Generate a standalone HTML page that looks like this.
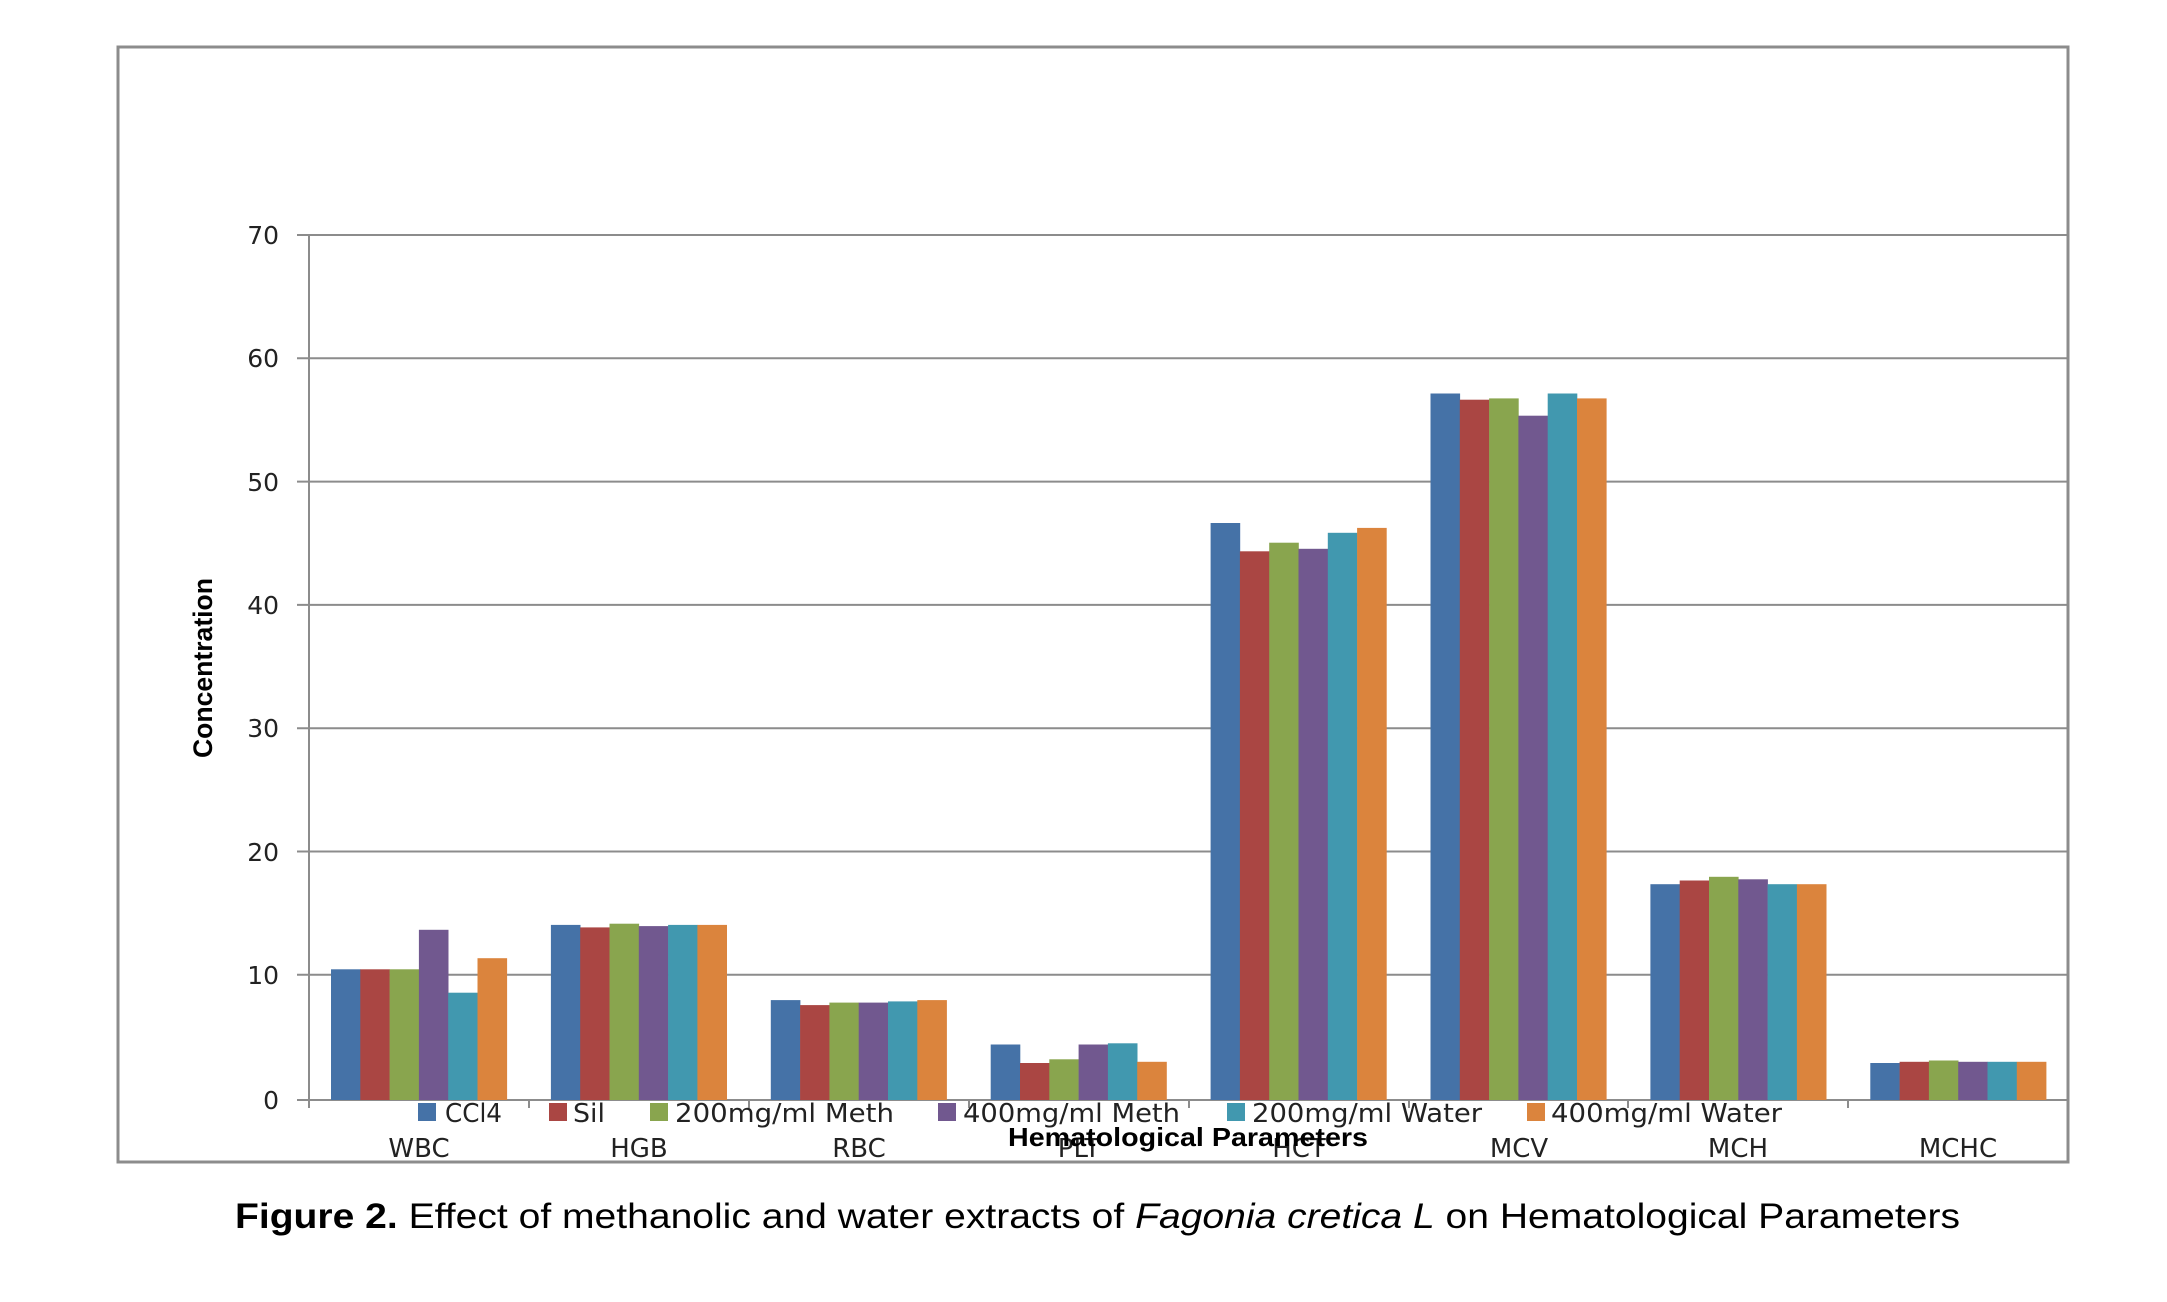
<!DOCTYPE html>
<html><head><meta charset="utf-8"><style>html,body{margin:0;padding:0;background:#fff}svg{display:block}</style></head>
<body>
<svg width="2167" height="1302" viewBox="0 0 2167 1302" xmlns="http://www.w3.org/2000/svg">
<rect x="118" y="47" width="1950" height="1115" fill="#fff" stroke="#8c8c8c" stroke-width="3"/>
<g stroke="#8c8c8c" stroke-width="2">
<line x1="297" y1="235" x2="2068" y2="235"/>
<line x1="297" y1="358.3" x2="2068" y2="358.3"/>
<line x1="297" y1="481.6" x2="2068" y2="481.6"/>
<line x1="297" y1="604.9" x2="2068" y2="604.9"/>
<line x1="297" y1="728.2" x2="2068" y2="728.2"/>
<line x1="297" y1="851.5" x2="2068" y2="851.5"/>
<line x1="297" y1="974.8" x2="2068" y2="974.8"/>
<line x1="297" y1="1100" x2="2068" y2="1100"/>
<line x1="309" y1="235" x2="309" y2="1108"/>
<line x1="529" y1="1100" x2="529" y2="1108"/>
<line x1="749" y1="1100" x2="749" y2="1108"/>
<line x1="969" y1="1100" x2="969" y2="1108"/>
<line x1="1189" y1="1100" x2="1189" y2="1108"/>
<line x1="1409" y1="1100" x2="1409" y2="1108"/>
<line x1="1628" y1="1100" x2="1628" y2="1108"/>
<line x1="1848" y1="1100" x2="1848" y2="1108"/>
</g>
<g font-family="DejaVu Sans, sans-serif" font-size="25" fill="#222" text-anchor="end">
<text x="279" y="244">70</text><text x="279" y="367">60</text><text x="279" y="491">50</text><text x="279" y="614">40</text><text x="279" y="737">30</text><text x="279" y="861">20</text><text x="279" y="984">10</text><text x="279" y="1109">0</text>
</g>
<g fill="#4572A7">
<rect x="331" y="969.3" width="29.6" height="130.7"/>
<rect x="550.9" y="924.9" width="29.6" height="175.1"/>
<rect x="770.8" y="1000.1" width="29.6" height="99.9"/>
<rect x="990.7" y="1044.5" width="29.6" height="55.5"/>
<rect x="1210.6" y="523" width="29.6" height="577"/>
<rect x="1430.5" y="393.5" width="29.6" height="706.5"/>
<rect x="1650.4" y="884.2" width="29.6" height="215.8"/>
<rect x="1870.3" y="1063" width="29.6" height="37"/>
</g>
<g fill="#AA4643">
<rect x="360.3" y="969.3" width="29.6" height="130.7"/>
<rect x="580.2" y="927.4" width="29.6" height="172.6"/>
<rect x="800.1" y="1005.1" width="29.6" height="94.9"/>
<rect x="1020" y="1063" width="29.6" height="37"/>
<rect x="1239.9" y="551.3" width="29.6" height="548.7"/>
<rect x="1459.8" y="399.7" width="29.6" height="700.3"/>
<rect x="1679.7" y="880.5" width="29.6" height="219.5"/>
<rect x="1899.6" y="1061.8" width="29.6" height="38.2"/>
</g>
<g fill="#89A54E">
<rect x="389.6" y="969.3" width="29.6" height="130.7"/>
<rect x="609.5" y="923.7" width="29.6" height="176.3"/>
<rect x="829.4" y="1002.6" width="29.6" height="97.4"/>
<rect x="1049.3" y="1059.3" width="29.6" height="40.7"/>
<rect x="1269.2" y="542.7" width="29.6" height="557.3"/>
<rect x="1489.1" y="398.4" width="29.6" height="701.6"/>
<rect x="1709" y="876.8" width="29.6" height="223.2"/>
<rect x="1928.9" y="1060.5" width="29.6" height="39.5"/>
</g>
<g fill="#71588F">
<rect x="418.9" y="929.8" width="29.6" height="170.2"/>
<rect x="638.8" y="926.1" width="29.6" height="173.9"/>
<rect x="858.7" y="1002.6" width="29.6" height="97.4"/>
<rect x="1078.6" y="1044.5" width="29.6" height="55.5"/>
<rect x="1298.5" y="548.8" width="29.6" height="551.2"/>
<rect x="1518.4" y="415.7" width="29.6" height="684.3"/>
<rect x="1738.3" y="879.3" width="29.6" height="220.7"/>
<rect x="1958.2" y="1061.8" width="29.6" height="38.2"/>
</g>
<g fill="#4198AF">
<rect x="448.2" y="992.7" width="29.6" height="107.3"/>
<rect x="668.1" y="924.9" width="29.6" height="175.1"/>
<rect x="888" y="1001.4" width="29.6" height="98.6"/>
<rect x="1107.9" y="1043.3" width="29.6" height="56.7"/>
<rect x="1327.8" y="532.8" width="29.6" height="567.2"/>
<rect x="1547.7" y="393.5" width="29.6" height="706.5"/>
<rect x="1767.6" y="884.2" width="29.6" height="215.8"/>
<rect x="1987.5" y="1061.8" width="29.6" height="38.2"/>
</g>
<g fill="#DB843D">
<rect x="477.5" y="958.2" width="29.6" height="141.8"/>
<rect x="697.4" y="924.9" width="29.6" height="175.1"/>
<rect x="917.3" y="1000.1" width="29.6" height="99.9"/>
<rect x="1137.2" y="1061.8" width="29.6" height="38.2"/>
<rect x="1357.1" y="527.9" width="29.6" height="572.1"/>
<rect x="1577" y="398.4" width="29.6" height="701.6"/>
<rect x="1796.9" y="884.2" width="29.6" height="215.8"/>
<rect x="2016.8" y="1061.8" width="29.6" height="38.2"/>
</g>
<g font-family="DejaVu Sans, sans-serif" font-size="26" fill="#222">
<rect x="418" y="1103" width="18" height="18" fill="#4572A7"/><text x="445" y="1122" textLength="57" lengthAdjust="spacingAndGlyphs">CCl4</text>
<rect x="549" y="1103" width="18" height="18" fill="#AA4643"/><text x="573" y="1122" textLength="32" lengthAdjust="spacingAndGlyphs">Sil</text>
<rect x="650" y="1103" width="18" height="18" fill="#89A54E"/><text x="675" y="1122" textLength="219" lengthAdjust="spacingAndGlyphs">200mg/ml Meth</text>
<rect x="938" y="1103" width="18" height="18" fill="#71588F"/><text x="963" y="1122" textLength="217" lengthAdjust="spacingAndGlyphs">400mg/ml Meth</text>
<rect x="1227" y="1103" width="18" height="18" fill="#4198AF"/><text x="1252" y="1122" textLength="230" lengthAdjust="spacingAndGlyphs">200mg/ml Water</text>
<rect x="1527" y="1103" width="18" height="18" fill="#DB843D"/><text x="1551" y="1122" textLength="231" lengthAdjust="spacingAndGlyphs">400mg/ml Water</text>
</g>
<g font-family="DejaVu Sans, sans-serif" font-size="26" fill="#222" text-anchor="middle">
<text x="419" y="1157">WBC</text><text x="639" y="1157">HGB</text><text x="859" y="1157">RBC</text><text x="1079" y="1157">PLT</text><text x="1299" y="1157">HCT</text><text x="1519" y="1157">MCV</text><text x="1738" y="1157">MCH</text><text x="1958" y="1157">MCHC</text>
</g>
<text x="1188" y="1146" font-family="Liberation Sans, sans-serif" font-weight="bold" font-size="26" text-anchor="middle" fill="#000" textLength="360" lengthAdjust="spacingAndGlyphs">Hematological Parameters</text>
<text transform="translate(212,668) rotate(-90)" font-family="Liberation Sans Narrow, Liberation Sans, sans-serif" font-weight="bold" font-size="27" text-anchor="middle" fill="#000" textLength="180" lengthAdjust="spacingAndGlyphs">Concentration</text>
<text x="235" y="1228" font-family="Liberation Sans, sans-serif" font-size="35" fill="#000" textLength="1725" lengthAdjust="spacingAndGlyphs"><tspan font-weight="bold">Figure 2.</tspan> Effect of methanolic and water extracts of <tspan font-style="italic">Fagonia cretica L</tspan> on Hematological Parameters</text>
</svg>
</body></html>
